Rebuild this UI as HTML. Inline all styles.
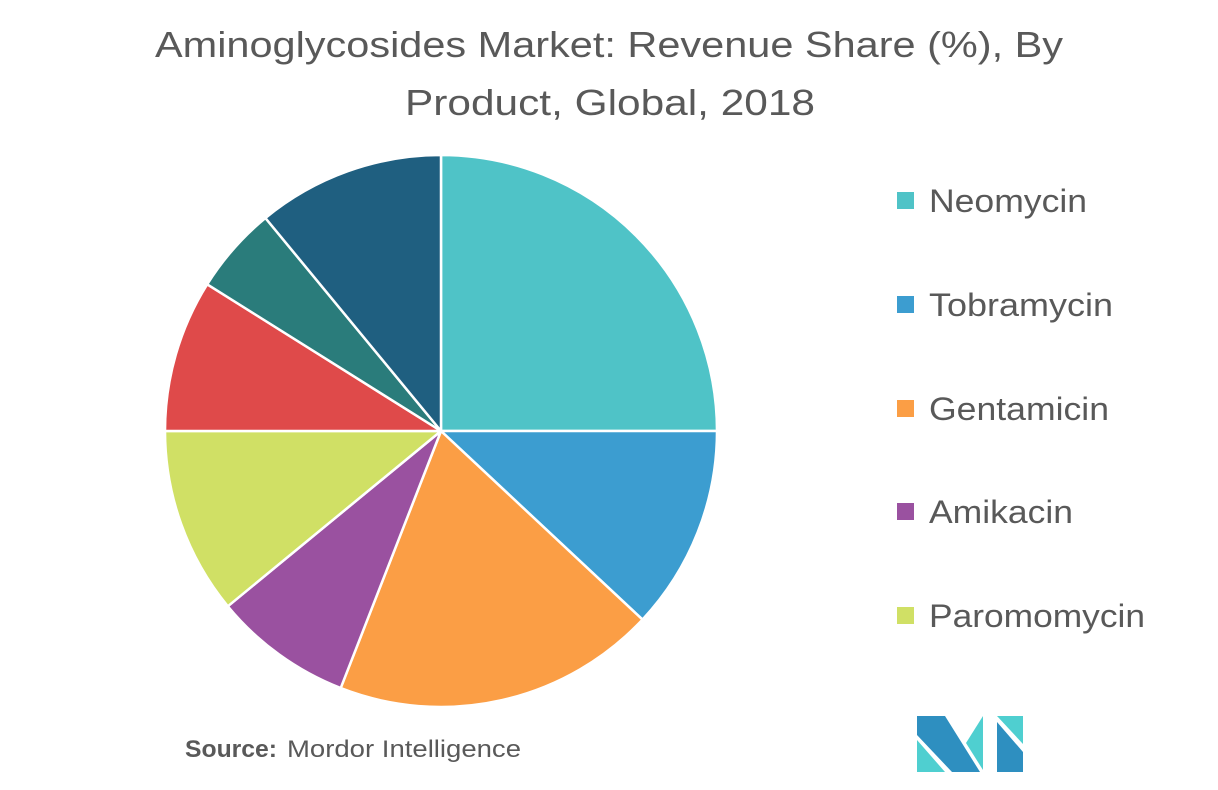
<!DOCTYPE html>
<html><head><meta charset="utf-8"><style>
body{margin:0;background:#fff;width:1218px;height:785px;overflow:hidden;font-family:"Liberation Sans",sans-serif}
</style></head><body>
<svg width="1218" height="785" viewBox="0 0 1218 785" xmlns="http://www.w3.org/2000/svg">
<text x="155" y="57" font-size="36" fill="#595959" font-family="Liberation Sans, sans-serif" textLength="908" lengthAdjust="spacingAndGlyphs">Aminoglycosides Market: Revenue Share (%), By</text>
<text x="405" y="115" font-size="36" fill="#595959" font-family="Liberation Sans, sans-serif" textLength="410" lengthAdjust="spacingAndGlyphs">Product, Global, 2018</text>
<g stroke="#fff" stroke-width="2.5" stroke-linejoin="round">
<path d="M441,431 L441,155 A276,276 0 0 1 717,431 Z" fill="#4fc3c7"/>
<path d="M441,431 L717,431 A276,276 0 0 1 642.5,619.6 Z" fill="#3c9dd0"/>
<path d="M441,431 L642.5,619.6 A276,276 0 0 1 340.7,688.1 Z" fill="#fb9e45"/>
<path d="M441,431 L340.7,688.1 A276,276 0 0 1 227.8,606.3 Z" fill="#9a51a0"/>
<path d="M441,431 L227.8,606.3 A276,276 0 0 1 165,431 Z" fill="#d0e065"/>
<path d="M441,431 L165,431 A276,276 0 0 1 207.2,284.3 Z" fill="#df4a4a"/>
<path d="M441,431 L207.2,284.3 A276,276 0 0 1 265.4,218 Z" fill="#2a7c7b"/>
<path d="M441,431 L265.4,218 A276,276 0 0 1 441,155 Z" fill="#1f5f80"/>
</g>
<g font-size="32" fill="#595959" font-family="Liberation Sans, sans-serif" lengthAdjust="spacingAndGlyphs">
<rect x="897" y="192" width="17" height="17" fill="#4fc3c7"/><text x="929" y="212" textLength="158" lengthAdjust="spacingAndGlyphs">Neomycin</text>
<rect x="897" y="296" width="17" height="17" fill="#3c9dd0"/><text x="929" y="316" textLength="184" lengthAdjust="spacingAndGlyphs">Tobramycin</text>
<rect x="897" y="400" width="17" height="17" fill="#fb9e45"/><text x="929" y="420" textLength="180" lengthAdjust="spacingAndGlyphs">Gentamicin</text>
<rect x="897" y="503" width="17" height="17" fill="#9a51a0"/><text x="929" y="523" textLength="144" lengthAdjust="spacingAndGlyphs">Amikacin</text>
<rect x="897" y="607" width="17" height="17" fill="#d0e065"/><text x="929" y="627" textLength="216" lengthAdjust="spacingAndGlyphs">Paromomycin</text>
</g>
<text x="185" y="757" font-size="24" fill="#595959" font-family="Liberation Sans, sans-serif" font-weight="bold" textLength="92" lengthAdjust="spacingAndGlyphs">Source:</text>
<text x="287" y="757" font-size="24" fill="#595959" font-family="Liberation Sans, sans-serif" textLength="234" lengthAdjust="spacingAndGlyphs">Mordor Intelligence</text>
<g>
<polygon points="917,716 945,716 980,772 952,772 917,735" fill="#2e8fc0"/>
<polygon points="917,740 945,772 917,772" fill="#4fcfd0"/>
<polygon points="966,743 983,716 983,770" fill="#4fcfd0"/>
<polygon points="997,716 1023,716 1023,744" fill="#4fcfd0"/>
<polygon points="997,722 1023,752 1023,772 997,772" fill="#2e8fc0"/>
</g>
</svg>
</body></html>
